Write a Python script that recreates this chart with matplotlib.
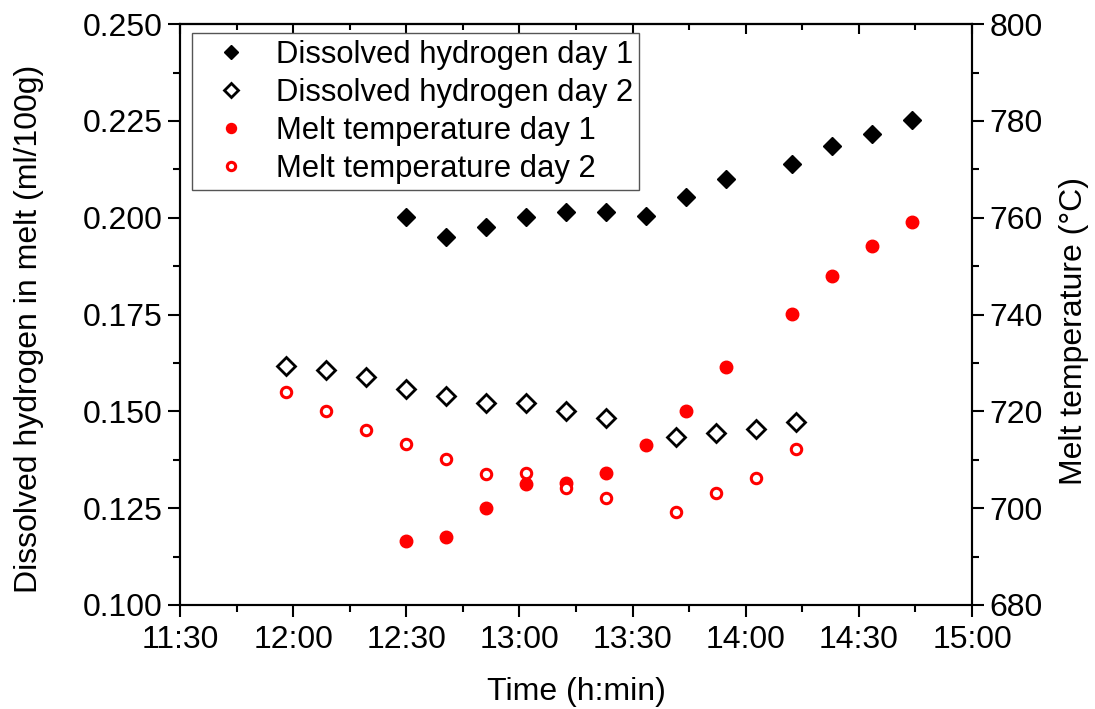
import numpy as np
import matplotlib.pyplot as plt
from matplotlib.ticker import MultipleLocator, FuncFormatter

plt.rcParams['font.family'] = ['Liberation Sans', 'DejaVu Sans']
plt.rcParams['font.size'] = 23

# -- DATA (clock times) -- #
times_day1 = ["12:30:00", "12:40:30", "12:51:06", "13:01:45", "13:12:24", "13:23:00", "13:33:36",
              "13:44:06", "13:54:48", "14:12:12", "14:22:48", "14:33:24", "14:44:00"]
times_day2 = ["11:58:06", "12:08:36", "12:19:12", "12:29:54", "12:40:30", "12:51:06", "13:01:42",
              "13:12:24", "13:23:00", "13:41:30", "13:52:06", "14:02:42", "14:13:18"]

h2_day1 = [0.2003, 0.1951, 0.1977, 0.2003, 0.2016, 0.2016, 0.2005,
           0.2053, 0.2100, 0.2139, 0.2186, 0.2216, 0.2253]
h2_day2 = [0.1616, 0.1607, 0.1588, 0.1559, 0.1540, 0.1521, 0.1521,
           0.1502, 0.1482, 0.1435, 0.1445, 0.1454, 0.1473]

temp_day1 = [693.2, 694.1, 700.1, 705.0, 705.1, 707.2, 713.1,
             720.1, 729.1, 740.1, 748.0, 754.2, 759.1]
temp_day2 = [724.1, 720.1, 716.2, 713.2, 710.2, 707.1, 707.2,
             704.1, 702.2, 699.2, 703.2, 706.2, 712.2]


def to_minutes(t):
    # "hh:mm:ss" -> minutes after midnight
    h, m, s = [int(v) for v in t.split(":")]
    return h * 60 + m + s / 60.0


def hmin(x, pos):
    x = int(round(x))
    return "%d:%02d" % (x // 60, x % 60)


t1 = np.array([to_minutes(t) for t in times_day1])
t2 = np.array([to_minutes(t) for t in times_day2])

fig = plt.figure(figsize=(10.95, 7.09), dpi=100)
ax = fig.add_axes([0.1644, 0.1467, 0.7233, 0.8193])
ax2 = ax.twinx()

l1, = ax.plot(t1, h2_day1, 'D', ms=9.5, color='black', mec='black', mew=1.0, ls='none',
              label='Dissolved hydrogen day 1')
l2, = ax.plot(t2, h2_day2, 'D', ms=9.0, mfc='white', mec='black', mew=2.0, ls='none',
              label='Dissolved hydrogen day 2')
l3, = ax2.plot(t1, temp_day1, 'o', ms=9.0, color='red', mec='red', ls='none',
               label='Melt temperature day 1')
l4, = ax2.plot(t2, temp_day2, 'o', ms=7.5, mfc='white', mec='red', mew=2.2, ls='none',
               label='Melt temperature day 2')

ax.set_xlim(to_minutes("11:30:00"), to_minutes("15:00:00"))
ax.set_ylim(0.100, 0.250)
ax2.set_ylim(680, 800)

ax.xaxis.set_major_locator(MultipleLocator(30))
ax.xaxis.set_minor_locator(MultipleLocator(15))
ax.xaxis.set_major_formatter(FuncFormatter(hmin))
ax.yaxis.set_major_locator(MultipleLocator(0.025))
ax.yaxis.set_minor_locator(MultipleLocator(0.0125))
ax.yaxis.set_major_formatter(FuncFormatter(lambda v, p: "%.3f" % v))
ax2.yaxis.set_major_locator(MultipleLocator(20))
ax2.yaxis.set_minor_locator(MultipleLocator(10))

for a in (ax, ax2):
    for sp in a.spines.values():
        sp.set_linewidth(1.5)
    a.tick_params(which='major', direction='out', length=8.5, width=1.5, pad=4)
    a.tick_params(which='minor', direction='out', length=5, width=1.5)
ax.tick_params(axis='x', top=False, pad=6)

# top axis: ticks pointing inwards, no labels
top = ax.secondary_xaxis('top')
top.xaxis.set_major_locator(MultipleLocator(30))
top.xaxis.set_minor_locator(MultipleLocator(15))
top.tick_params(which='major', direction='in', length=7, width=1.5, labeltop=False)
top.tick_params(which='minor', direction='in', length=4, width=1.5)
top.spines['top'].set_linewidth(1.5)

ax.set_xlabel("Time (h:min)", labelpad=16)
ax.set_ylabel("Dissolved hydrogen in melt (ml/100g)")
ax2.set_ylabel("Melt temperature (\u00b0C)")
ax.yaxis.set_label_coords(-0.172, 0.475)
ax2.yaxis.set_label_coords(1.11, 0.472)

leg = ax2.legend(handles=[l1, l2, l3, l4], loc='upper left', bbox_to_anchor=(0.015, 0.984),
                 frameon=True, fancybox=False, edgecolor='#555555', framealpha=1,
                 borderpad=0.2, labelspacing=0.26, handletextpad=0.4, handlelength=2.1,
                 markerscale=0.8, fontsize=22.3, borderaxespad=0)
leg.get_frame().set_linewidth(1.0)

plt.savefig("out.png", dpi=100)
